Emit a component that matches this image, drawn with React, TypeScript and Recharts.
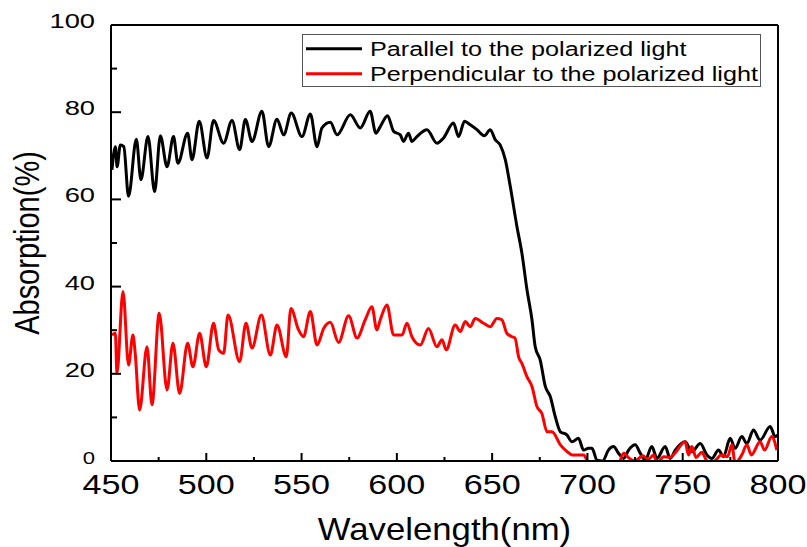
import React from 'react';
import { LineChart, Line, XAxis, YAxis, Legend } from 'recharts';

// wavelength (nm) / absorption (%)
const parallelNm = [
  450.5, 452.3, 453.2, 454.9, 456.7, 459.2, 463.3, 465.7, 469.4, 472.9, 475.9, 479.4, 482.8, 485.1,
  490.2, 492.5, 496.3, 500.4, 503.8, 509.1, 513.5, 517.5, 520.5, 524, 529.2, 532.7, 537.1, 540.6,
  544.6, 550.2, 554.6, 558.1, 560.7, 565.1, 568.6, 575.6, 580.8, 586, 589, 591.3, 595.1, 598.3,
  601.8, 603.5, 606.1, 607.9, 610.5, 615.8, 621, 624.5, 629.7, 632.4, 635.5, 638.5, 642, 645.9,
  649, 651.6, 654.2, 656.9, 659.5, 663, 665.6, 668.3, 670.9, 672.6, 675.2, 677.9, 680.5, 683.1,
  685.8, 689.2, 691.9, 695.3, 698, 700.5, 702.4, 705, 708, 711, 713.7, 716.3, 719, 721.6, 725.1,
  727.7, 730.3, 733.8, 736.5, 740.8, 743.4, 746.1, 751.3, 754.8, 759.2, 762.7, 765.3, 768.8,
  771.4, 774.9, 777.5, 781, 783.7, 787.1, 790.6, 795.9, 798.5, 800,
];
const parallelAbs = [
  66.8, 72.1, 67.5, 72.5, 72.1, 60.7, 73.8, 64.5, 74.4, 61.8, 74.6, 67.5, 74.4, 68.3,
  75.2, 69.1, 77.9, 69.5, 78.1, 72.9, 78.1, 71.4, 78.3, 73.3, 80.2, 72.1, 78.4, 74.8,
  79.8, 74.4, 79.6, 72.1, 76.4, 77.7, 74.8, 79.4, 76.4, 80.2, 75.2, 76.7, 79.2, 75.6,
  74.8, 73.3, 75.2, 73.3, 74.4, 76.0, 72.9, 74.1, 77.5, 74.4, 77.9, 77.1, 76.0, 74.6,
  76.0, 73.7, 72.5, 69.1, 63.0, 53.8, 47.7, 39.2, 32.4, 26.2, 23.2, 17.1, 14.8, 10.2,
  6.7, 6.0, 4.4, 5.2, 2.5, 2.9, 2.9, 0.2, 0, 2.5, 3.3, 1.8, 0.6, 2.5, 3.7,
  1.8, 0.2, 3.3, 0.6, 3.3, 0.6, 2.5, 4.4, 2.1, 4.0, 1.4, 0.6, 2.5,
  1.0, 5.2, 2.9, 5.6, 4.0, 7.1, 4.8, 7.9, 5.6, 6.0,
];

const perpNm = [
  450.5, 452.3, 453.1, 456.3, 459.2, 461.5, 462.7, 465, 468.9, 471.5, 475.3, 479.4, 482.5, 486,
  490.2, 493, 496.5, 500, 503.8, 506.5, 509.1, 511.4, 517.5, 520.8, 524, 528.9, 533.6, 537.1,
  542, 544.4, 548.4, 551, 554.6, 558.1, 561.6, 565.1, 569.4, 574.7, 579.1, 583.4, 586.9, 589.5,
  591.3, 594.8, 598.3, 602.7, 605.3, 607.9, 612.3, 616.6, 621, 623.7, 625.9, 630.6, 633.3, 635.9,
  638.5, 641.1, 645.5, 649, 652.5, 655.1, 657.7, 660.4, 662, 664, 665.6, 668.3, 670.9, 673.5,
  676.1, 678.8, 681.4, 685.8, 689.2, 692, 698, 700, 703, 710, 716, 719, 722, 725, 729, 732,
  734.7, 736.5, 740, 743, 745.5, 751.3, 753, 754.8, 757, 760, 762.7, 765, 768, 770, 773.5,
  775.8, 777.5, 781, 783.7, 786, 790.6, 793, 796.7, 799.4,
];
const perpAbs = [
  28.9, 29.3, 20.1, 38.9, 22.0, 28.9, 24.7, 11.7, 26.2, 12.9, 33.9, 16.3, 27.0, 15.5,
  27.0, 21.6, 29.3, 21.6, 31.6, 25.5, 24.7, 33.5, 22.8, 31.6, 25.9, 33.5, 24.3, 31.2,
  23.9, 35.0, 30.1, 28.5, 34.3, 26.6, 30.4, 31.8, 27.2, 33.3, 28.2, 32.4, 35.4, 30.1,
  32.4, 35.8, 28.9, 28.9, 31.6, 28.5, 26.6, 30.4, 26.2, 27.8, 25.5, 31.2, 29.7, 32.0,
  30.8, 32.7, 31.6, 30.8, 32.7, 32.4, 29.3, 28.5, 28.2, 23.7, 22.4, 19.3, 17.1, 12.5,
  10.9, 6.7, 6.7, 3.7, 2.2, 1.4, 1.4, 0, -1, -1, -1, 1.8, 0.6, 0, 1.2, 0.4,
  1.4, -0.5, 1.0, 0.8, 1.6, 4.4, 1.4, 3.3, 0.8, 2.0, 0, -0.5, 0.5, 1.4, 1.0,
  3.7, -0.5, 1.4, 3.7, 1.4, 4.4, 2.5, 5.6, 2.5,
];

const xTicks = [450, 475, 500, 525, 550, 575, 600, 625, 650, 675, 700, 725, 750, 775, 800];
const yTicks = [0, 10, 20, 30, 40, 50, 60, 70, 80, 90, 100];

const seriesNames = ['Parallel to the polarized light', 'Perpendicular to the polarized light'];
const seriesColors = ['#000000', '#ff0000'];

const parallelData = parallelNm.map((nm, i) => ({ nm, abs: parallelAbs[i] }));
const perpData = perpNm.map((nm, i) => ({ nm, abs: perpAbs[i] }));

const FONT = '"Liberation Sans", Arial, sans-serif';

const BottomTick = (props: any) => {
  const { x, y, payload } = props;
  const major = payload.value % 50 === 0;
  return (
    <g>
      <line x1={x} y1={y} x2={x} y2={y - (major ? 8 : 4)} stroke="#000" strokeWidth={2} />
      {major && (
        <text
          transform={`translate(${x},${y + 33}) scale(1.22,1)`}
          textAnchor="middle"
          fontSize={28}
          fontFamily={FONT}
          fill="#000"
        >
          {payload.value}
        </text>
      )}
    </g>
  );
};

const TopTick = (props: any) => {
  const { x, y, payload } = props;
  const major = payload.value % 50 === 0;
  return <line x1={x} y1={y} x2={x} y2={y + (major ? 8 : 4)} stroke="#000" strokeWidth={2} />;
};

const LeftTick = (props: any) => {
  const { x, y, payload } = props;
  const major = payload.value % 20 === 0;
  const small = payload.value === 0;
  return (
    <g>
      <line x1={x} y1={y} x2={x + (major ? 10 : 6)} y2={y} stroke="#000" strokeWidth={2} />
      {major && (
        <text
          transform={`translate(${x - 16},${y + 3}) scale(1.3,1)`}
          textAnchor="end"
          fontSize={small ? 17 : 21}
          fontFamily={FONT}
          fill="#000"
        >
          {payload.value}
        </text>
      )}
    </g>
  );
};

const RightTick = (props: any) => {
  const { x, y, payload } = props;
  const major = payload.value % 20 === 0;
  return <line x1={x} y1={y} x2={x - (major ? 10 : 6)} y2={y} stroke="#000" strokeWidth={2} />;
};

const LegendBox = () => (
  <svg width={460} height={54} style={{ display: 'block' }}>
    <rect x={0.5} y={0.5} width={458} height={52} fill="#fff" stroke="#555" strokeWidth={1} />
    {seriesNames.map((name, i) => (
      <g key={name}>
        <line x1={4} x2={60} y1={14.7 + 25 * i} y2={14.7 + 25 * i} stroke={seriesColors[i]} strokeWidth={3} />
        <text
          transform={`translate(68,${22 + 25 * i}) scale(1.2,1)`}
          fontSize={21}
          fontFamily={FONT}
          fill="#000"
        >
          {name}
        </text>
      </g>
    ))}
  </svg>
);

const XLabel = (props: any) => {
  const { viewBox } = props;
  const cx = viewBox.x + viewBox.width / 2;
  return (
    <text
      transform={`translate(${cx},${viewBox.y + 79}) scale(1.12,1)`}
      textAnchor="middle"
      fontSize={31}
      fontFamily={FONT}
      fill="#000"
    >
      Wavelength(nm)
    </text>
  );
};

const YLabel = (props: any) => {
  const { viewBox } = props;
  const cy = viewBox.y + viewBox.height / 2;
  return (
    <text
      transform={`translate(${viewBox.x + viewBox.width - 72},${cy}) scale(1.22,1) rotate(-90)`}
      textAnchor="middle"
      fontSize={29}
      fontFamily={FONT}
      fill="#000"
    >
      Absorption(%)
    </text>
  );
};

const App = () => {
  return (
    <div style={{ position: 'fixed', left: 0, top: 0, background: '#fff' }}>
      <LineChart width={807} height={547} margin={{ top: 24, right: 28, bottom: 85, left: 110 }}>
        <XAxis
          type="number"
          dataKey="nm"
          domain={[450, 800]}
          ticks={xTicks}
          interval={0}
          allowDataOverflow
          height={1}
          tickSize={0}
          tickMargin={0}
          tickLine={false}
          tick={BottomTick}
          axisLine={{ stroke: '#000', strokeWidth: 2 }}
          label={XLabel}
        />
        <XAxis
          xAxisId="top"
          orientation="top"
          type="number"
          dataKey="nm"
          domain={[450, 800]}
          ticks={xTicks}
          interval={0}
          height={1}
          tickSize={0}
          tickMargin={0}
          tickLine={false}
          tick={TopTick}
          axisLine={{ stroke: '#000', strokeWidth: 2 }}
        />
        <YAxis
          type="number"
          domain={[0, 100]}
          ticks={yTicks}
          interval={0}
          allowDataOverflow
          width={1}
          tickSize={0}
          tickMargin={0}
          tickLine={false}
          tick={LeftTick}
          axisLine={{ stroke: '#000', strokeWidth: 2 }}
          label={YLabel}
        />
        <YAxis
          yAxisId="right"
          orientation="right"
          type="number"
          domain={[0, 100]}
          ticks={yTicks}
          interval={0}
          width={1}
          tickSize={0}
          tickMargin={0}
          tickLine={false}
          tick={RightTick}
          axisLine={{ stroke: '#000', strokeWidth: 2 }}
        />
        <Legend
          layout="vertical"
          align="center"
          verticalAlign="middle"
          wrapperStyle={{ left: 302, top: 34, width: 460, height: 54 }}
          content={LegendBox}
        />
        <Line
          data={parallelData}
          dataKey="abs"
          name={seriesNames[0]}
          type="monotone"
          stroke={seriesColors[0]}
          strokeWidth={3}
          dot={false}
          activeDot={false}
          isAnimationActive={false}
        />
        <Line
          data={perpData}
          dataKey="abs"
          name={seriesNames[1]}
          type="monotone"
          stroke={seriesColors[1]}
          strokeWidth={3}
          dot={false}
          activeDot={false}
          isAnimationActive={false}
        />
      </LineChart>
    </div>
  );
};

export default App;
